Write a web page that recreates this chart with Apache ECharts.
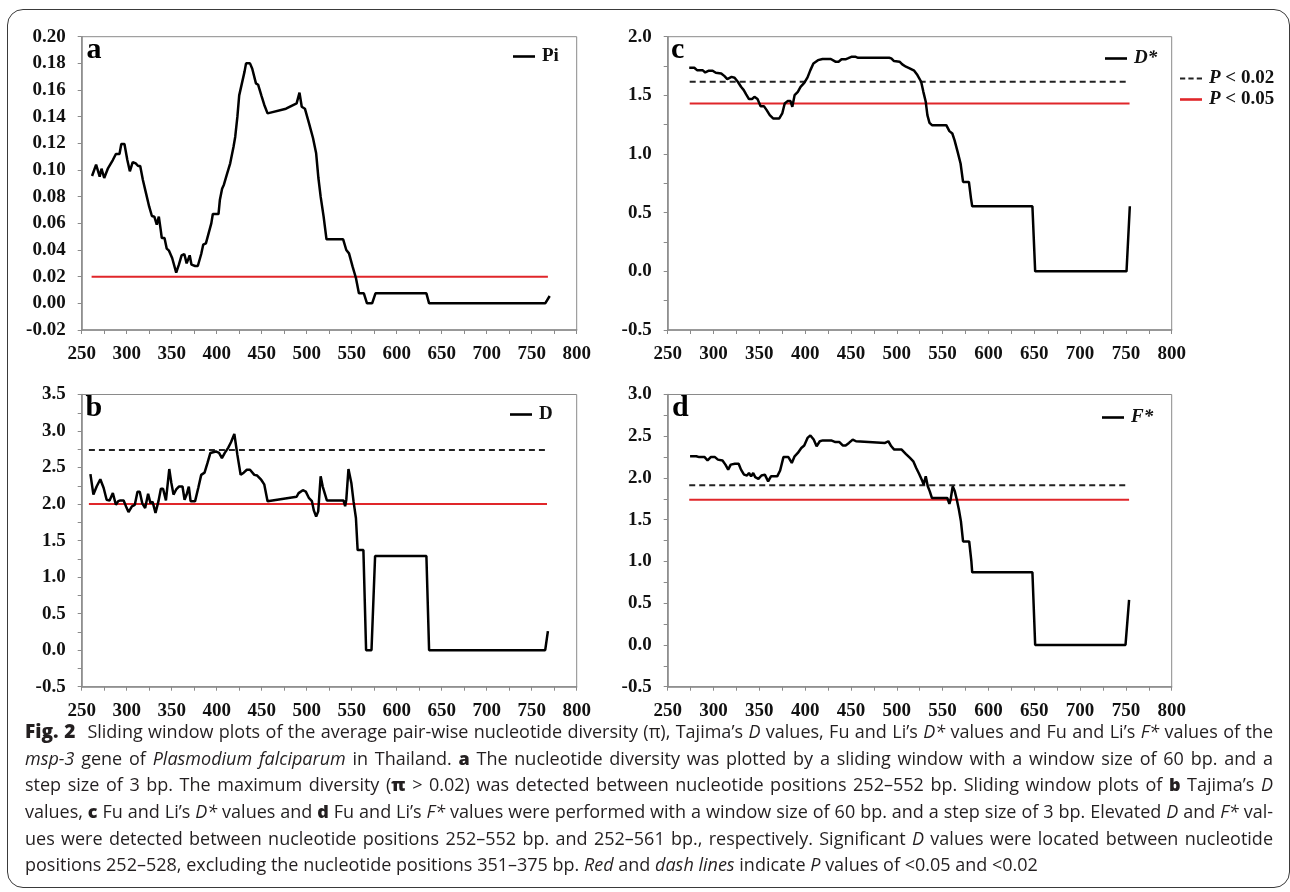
<!DOCTYPE html>
<html><head><meta charset="utf-8">
<script src="https://cdn.jsdelivr.net/npm/echarts@6/dist/echarts.min.js"></script>
<style>
html,body{margin:0;padding:0;background:#fff;}
#wrap{position:relative;width:1290px;height:892px;overflow:hidden;background:#fff;}
#frame{position:absolute;left:7px;top:9px;width:1283px;height:879px;border:1.5px solid #3a3a3a;border-radius:16px;box-sizing:border-box;}
#chart{position:absolute;left:0;top:0;width:1290px;height:892px;}
#caption{position:absolute;left:25px;top:718px;width:1248px;font-family:'Open Sans',Lato,sans-serif;font-size:16px;color:#231f20;z-index:5;}
.line{white-space:nowrap;height:26.7px;line-height:26.7px;}
.line span.in{display:inline-block;}
.fig{font-weight:800;font-size:1.06em;}
b{font-weight:800;}
i{font-style:italic;}
</style>
</head><body>
<div id="wrap">
<div id="frame"></div>
<div id="chart"></div>
<div id="caption">
<div class="line"><span class="in"><span class="fig">Fig. 2</span>&ensp;&thinsp;Sliding window plots of the average pair-wise nucleotide diversity (π), Tajima’s <i>D</i> values, Fu and Li’s <i>D*</i> values and Fu and Li’s <i>F*</i> values of the</span></div>
<div class="line"><span class="in"><i>msp-3</i> gene of <i>Plasmodium falciparum</i> in Thailand. <b>a</b> The nucleotide diversity was plotted by a sliding window with a window size of 60 bp. and a</span></div>
<div class="line"><span class="in">step size of 3 bp. The maximum diversity (<b>π</b> &gt; 0.02) was detected between nucleotide positions 252–552 bp. Sliding window plots of <b>b</b> Tajima’s <i>D</i></span></div>
<div class="line"><span class="in">values, <b>c</b> Fu and Li’s <i>D*</i> values and <b>d</b> Fu and Li’s <i>F*</i> values were performed with a window size of 60 bp. and a step size of 3 bp. Elevated <i>D</i> and <i>F*</i> val-</span></div>
<div class="line"><span class="in">ues were detected between nucleotide positions 252–552 bp. and 252–561 bp., respectively. Significant <i>D</i> values were located between nucleotide</span></div>
<div class="line last"><span class="in">positions 252–528, excluding the nucleotide positions 351–375 bp. <i>Red</i> and <i>dash lines</i> indicate <i>P</i> values of &lt;0.05 and &lt;0.02</span></div>
</div>
</div>
<script>
// ---- data ----
const xRange = [250, 800, 50];
const yRangeA = [-0.02, 0.20, 0.02];
const yRangeB = [-0.5, 3.5, 0.5];
const yRangeC = [-0.5, 2.0, 0.5];
const yRangeD = [-0.5, 3.0, 0.5];

const piData = [[261.5,0.0955],[266,0.104],[270,0.095],[272,0.101],[275,0.094],[279,0.101],[281,0.101],[284.6,0.1075],[288,0.112],[292,0.112],[294,0.1195],[297.5,0.1195],[300.7,0.1075],[303.5,0.099],[306.7,0.106],[310,0.105],[312.7,0.103],[315,0.103],[318,0.0925],[321.5,0.0825],[325,0.0725],[328,0.0655],[330.7,0.065],[333.4,0.059],[335.7,0.065],[337.6,0.056],[339,0.049],[342,0.049],[344.5,0.041],[347,0.0395],[350.5,0.034],[355,0.023],[358,0.029],[361,0.036],[364,0.037],[366.6,0.030],[370,0.036],[372,0.029],[376,0.028],[379,0.028],[382.8,0.037],[385,0.044],[388,0.045],[391,0.0525],[394,0.06],[395.7,0.067],[402,0.067],[403.5,0.0775],[406,0.086],[408,0.089],[411,0.096],[415,0.105],[418.7,0.1175],[420.6,0.125],[423,0.14],[425,0.156],[428,0.165],[431,0.174],[432.6,0.18],[437,0.18],[439.5,0.176],[443.6,0.165],[446,0.164],[449.6,0.156],[452.8,0.149],[456.5,0.1425],[477,0.146],[488.8,0.15],[492,0.158],[494.5,0.1475],[498,0.146],[502.6,0.135],[507,0.124],[510.5,0.1125],[513,0.094],[515.5,0.08],[518.8,0.065],[522,0.048],[540.5,0.048],[544,0.04],[547,0.0375],[551,0.0275],[554.7,0.019],[558,0.0075],[563.5,0.0075],[567,0],[572.7,0],[576.4,0.0075],[633,0.0075],[636,0],[765,0],[770,0.0055]];

const tajimaD = [[259.7,2.41],[263,2.13],[266.6,2.24],[270.7,2.34],[274.4,2.22],[277.7,2.06],[281,2.05],[284.6,2.15],[288,1.99],[290.6,2.04],[293,2.05],[296.6,2.05],[300,1.945],[302,1.89],[305.8,1.97],[309,1.99],[312,2.17],[314.5,2.17],[317.3,2.01],[320.5,1.945],[323.8,2.14],[326.5,2.01],[328.8,2.03],[332,1.88],[335.3,2.04],[338,2.21],[340.4,2.21],[343.6,2.05],[347.3,2.48],[349.6,2.29],[352,2.13],[355,2.20],[358,2.24],[362,2.24],[364.3,2.06],[366.6,2.13],[369,2.24],[371,2.04],[376,2.04],[379.5,2.22],[382.8,2.40],[386.5,2.43],[389.7,2.56],[393,2.70],[395,2.72],[399,2.72],[402.6,2.70],[405.8,2.63],[409,2.70],[412.7,2.77],[416,2.85],[419.6,2.96],[422.9,2.68],[426.6,2.40],[430,2.43],[433.5,2.47],[437,2.47],[441.8,2.40],[445,2.39],[449.6,2.33],[452.8,2.27],[456.5,2.04],[488.8,2.10],[491,2.15],[495.7,2.19],[499,2.17],[502.6,2.08],[505.8,2.04],[508,1.91],[510.5,1.83],[512.8,1.90],[515.5,2.38],[517.8,2.24],[522.4,2.05],[540.9,2.05],[542.7,1.97],[544,2.06],[546.4,2.48],[549.6,2.29],[552,2.04],[554.7,1.81],[556.6,1.37],[563,1.37],[566,0],[572,0],[576,1.29],[633,1.29],[636,0],[765,0],[768,0.26]];

const fuLiD = [[273.5,1.735],[279,1.735],[282,1.715],[288,1.715],[291,1.695],[295,1.71],[299,1.71],[302.5,1.693],[308.4,1.687],[312,1.664],[315,1.639],[319.7,1.658],[323,1.65],[326.5,1.616],[330,1.573],[333,1.545],[335.6,1.508],[338.7,1.468],[342,1.468],[344.6,1.488],[348,1.468],[351.4,1.408],[355,1.408],[358,1.374],[361.4,1.331],[365,1.303],[371.8,1.303],[375,1.346],[377.7,1.431],[380.8,1.451],[384,1.451],[386,1.403],[388.5,1.502],[392,1.53],[395,1.573],[399,1.607],[402.6,1.653],[405.7,1.715],[409,1.772],[414,1.80],[419,1.81],[428,1.81],[433,1.787],[436.5,1.787],[439.7,1.807],[444,1.807],[446.5,1.815],[451,1.83],[454.6,1.83],[457.8,1.82],[491.7,1.82],[494,1.815],[497,1.792],[503,1.787],[506,1.764],[510,1.744],[514,1.73],[519,1.71],[522.5,1.673],[526.6,1.616],[529,1.53],[531.6,1.445],[533.4,1.331],[535.7,1.266],[538.4,1.246],[554,1.246],[557.4,1.195],[560.6,1.175],[563,1.118],[566.4,1.018],[569.6,0.919],[572.3,0.762],[578.7,0.762],[581,0.62],[582.3,0.555],[648,0.555],[651,0],[750.7,0],[754.3,0.555]];

const fuLiF = [[274.4,2.26],[281.2,2.26],[284.4,2.25],[290.3,2.25],[293.5,2.21],[297,2.25],[301.6,2.25],[304.8,2.22],[309.8,2.21],[313,2.16],[316,2.10],[318.8,2.16],[323.3,2.17],[327.4,2.17],[330,2.10],[333.3,2.04],[336.5,2.03],[338.7,2.06],[341,2.02],[343.3,2.06],[345.5,2.01],[349,1.99],[352.3,2.03],[356,2.04],[359.6,1.96],[362.7,2.02],[366,2.02],[369.5,2.02],[372.7,2.09],[376.3,2.25],[381.7,2.25],[385.4,2.18],[388.5,2.26],[392,2.30],[395.8,2.36],[399,2.39],[402.6,2.48],[405.7,2.51],[409.3,2.46],[412.5,2.38],[416,2.44],[419.3,2.45],[428.4,2.45],[433,2.43],[437.4,2.43],[441,2.39],[444.2,2.39],[447.8,2.42],[451.9,2.46],[455.5,2.44],[487.2,2.42],[490.8,2.44],[494,2.38],[497.2,2.34],[505.3,2.34],[509.8,2.29],[514.4,2.24],[518,2.20],[521.2,2.12],[524.3,2.05],[528,1.96],[529.3,1.92],[531.6,2.02],[533.8,1.90],[536,1.84],[538.4,1.76],[555.1,1.76],[557.4,1.69],[558.7,1.74],[561,1.90],[563.3,1.84],[565.5,1.74],[567.8,1.62],[570,1.48],[572.3,1.24],[579,1.24],[581.4,1.0],[582.3,0.87],[648,0.87],[651,0],[749.6,0],[753.5,0.54]];

// significance thresholds [P<0.02 (dashed), P<0.05 (red)] and their x spans
const piCut = [0.02];         const piSpan = [261, 768];
const dCut  = [2.74, 2.0];    const dSpan  = [258, 767];
const dsCut = [1.616, 1.431]; const dsSpan = [274, 754];
const fsCut = [1.912, 1.74];  const fsSpan = [273.5, 753.5];

// ---- chart ----
const SERIF = 'Liberation Serif, Times New Roman, serif';
const GRAY = '#8a8a8a';
const RED = '#e0262a';
const grids = [
  {left:81.7, top:36.7, width:495, height:293.3},
  {left:81.7, top:394.5, width:495, height:292.2},
  {left:667.7, top:36.7, width:504, height:293.3},
  {left:667.7, top:394.5, width:504, height:292.2}
].map(g => Object.assign({show:true, borderColor:GRAY, borderWidth:1, containLabel:false}, g));

function xAx(gi){
  return {type:'value', gridIndex:gi, min:xRange[0], max:xRange[1], interval:xRange[2],
    axisLine:{show:true, onZero:false, lineStyle:{color:GRAY, width:1.5}},
    axisTick:{show:true, length:4, lineStyle:{color:GRAY}},
    minorTick:{show:true, splitNumber:2, length:4, lineStyle:{color:GRAY}},
    splitLine:{show:false}, minorSplitLine:{show:false},
    axisLabel:{color:'#111', fontFamily:SERIF, fontWeight:'bold', fontSize:19, margin:15, showMinLabel:true, showMaxLabel:true}};
}
function yAx(gi, r, dec, minor){
  return {type:'value', gridIndex:gi, min:r[0], max:r[1], interval:r[2],
    axisLine:{show:true, onZero:false, lineStyle:{color:GRAY, width:1.5}},
    axisTick:{show:true, length:4, lineStyle:{color:GRAY}},
    minorTick:{show:minor, splitNumber:2, length:4, lineStyle:{color:GRAY}},
    splitLine:{show:false},
    axisLabel:{color:'#111', fontFamily:SERIF, fontWeight:'bold', fontSize:19, margin:16, showMinLabel:true, showMaxLabel:true,
      formatter: v => Number(v).toFixed(dec)}};
}
function mainLine(name, data, idx){
  return {name, type:'line', xAxisIndex:idx, yAxisIndex:idx, data, symbol:'none', showSymbol:false,
    lineStyle:{color:'#000', width:2.5}, itemStyle:{color:'#000'}, z:5, animation:false};
}
function refLine(name, y, span, idx, dashed){
  return {name, type:'line', xAxisIndex:idx, yAxisIndex:idx, data:[[span[0], y],[span[1], y]], symbol:'none', showSymbol:false,
    lineStyle:dashed ? {color:'#222', width:2, type:[6,4]} : {color:RED, width:2},
    itemStyle:{color: dashed ? '#222' : RED}, z:3, animation:false};
}

const richTxt = {
  i:{fontFamily:SERIF, fontStyle:'italic', fontWeight:'bold', fontSize:19, color:'#111'},
  n:{fontFamily:SERIF, fontWeight:'bold', fontSize:19, color:'#111'}
};
function legFmt(name){
  if (name === 'D*' || name === 'F*') return '{i|' + name + '}';
  if (name.indexOf('P <') === 0) return '{i|P}{n|' + name.slice(1) + '}';
  return '{n|' + name + '}';
}
const SOLID_ICON = 'rect';
const DASH_ICON = 'path://M0,0h5v2h-5z M8,0h5v2h-5z M16,0h5v2h-5z';
function leg(items, left, top){
  return {data:items.map(n => ({name:n, icon: n === 'P < 0.02' ? DASH_ICON : SOLID_ICON})),
    left, top, orient:'vertical', padding:0, itemGap:2, itemWidth:22, itemHeight:2.6,
    selectedMode:false, formatter:legFmt, itemStyle:{borderWidth:0},
    textStyle:{fontFamily:SERIF, fontWeight:'bold', fontSize:19, color:'#111', rich:richTxt, padding:[0,0,0,2]}};
}
function letter(t, left, top){
  return {text:t, left, top, padding:0, textStyle:{fontFamily:SERIF, fontWeight:'bold', fontSize:30, color:'#000'}};
}

const option = {
  animation:false,
  backgroundColor:'transparent',
  title:[letter('a', 86.5, 35), letter('b', 85.5, 393), letter('c', 671, 35), letter('d', 672, 393)],
  legend:[
    leg(['Pi'], 513, 47),
    leg(['D'], 510, 405),
    leg(['D*'], 1105, 49),
    leg(['P < 0.02', 'P < 0.05'], 1180, 69),
    leg(['F*'], 1102, 408)
  ],
  grid:grids,
  xAxis:[xAx(0), xAx(1), xAx(2), xAx(3)],
  yAxis:[yAx(0, yRangeA, 2, false), yAx(1, yRangeB, 1, true), yAx(2, yRangeC, 1, true), yAx(3, yRangeD, 1, true)],
  series:[
    refLine('cutA', piCut[0], piSpan, 0, false),
    mainLine('Pi', piData, 0),
    refLine('P < 0.02', dCut[0], dSpan, 1, true),
    refLine('P < 0.05', dCut[1], dSpan, 1, false),
    mainLine('D', tajimaD, 1),
    refLine('P < 0.02', dsCut[0], dsSpan, 2, true),
    refLine('P < 0.05', dsCut[1], dsSpan, 2, false),
    mainLine('D*', fuLiD, 2),
    refLine('P < 0.02', fsCut[0], fsSpan, 3, true),
    refLine('P < 0.05', fsCut[1], fsSpan, 3, false),
    mainLine('F*', fuLiF, 3)
  ]
};
const chart = echarts.init(document.getElementById('chart'), null, {renderer:'canvas'});
chart.setOption(option);

// fit caption: size font so the first line fills the width, then justify the others
function fitCaption(){
  const target = 1248;
  const cap = document.getElementById('caption');
  const lines = Array.from(cap.querySelectorAll('.line'));
  lines.forEach(l => { l.querySelector('.in').style.wordSpacing = '0px'; });
  cap.style.fontSize = '16px';
  const w1 = lines[0].querySelector('.in').getBoundingClientRect().width;
  let fs = 16 * (target - 2) / w1;
  fs = Math.max(14, Math.min(18, fs));
  cap.style.fontSize = fs + 'px';
  lines.forEach(line => {
    if (line.classList.contains('last')) return;
    const inner = line.querySelector('.in');
    inner.style.wordSpacing = '0px';
    const w = inner.getBoundingClientRect().width;
    const n = (inner.textContent.match(/ /g) || []).length;
    if (n > 0) inner.style.wordSpacing = ((target - w) / n) + 'px';
  });
}
fitCaption();
if (document.fonts && document.fonts.ready) document.fonts.ready.then(fitCaption);
</script>
</body></html>
